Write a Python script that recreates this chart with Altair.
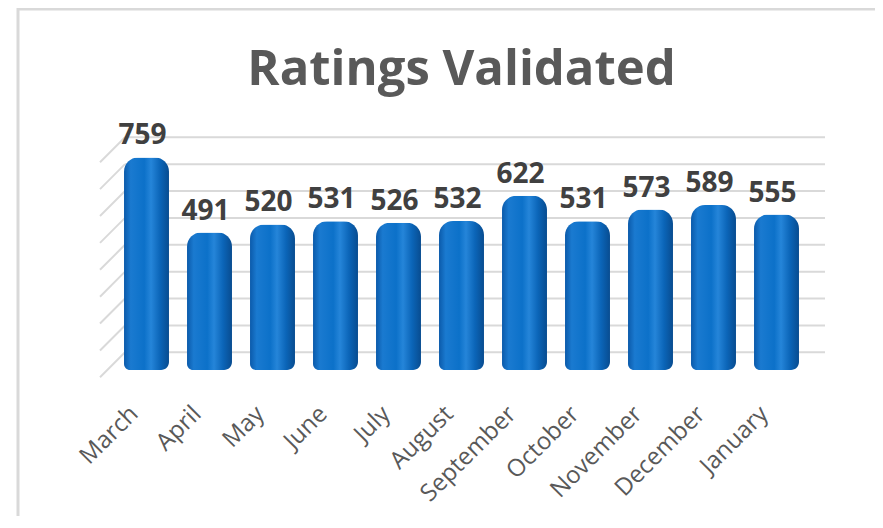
import altair as alt
import pandas as pd

months = ["March", "April", "May", "June", "July", "August", "September",
          "October", "November", "December", "January"]
ratings = [759, 491, 520, 531, 526, 532, 622, 531, 573, 589, 555]
grid_ticks = [0, 100, 200, 300, 400, 500, 600, 700, 800]

bars_df = pd.DataFrame({"month": months, "value": ratings})
grid_df = pd.DataFrame({"tick": grid_ticks})

W, H = 693, 224
ydom = [0, 800]

xenc = alt.X("month:N", sort=months,
             scale=alt.Scale(paddingInner=0.286, paddingOuter=0.143),
             axis=alt.Axis(title=None, labelAngle=-45, labelAlign="right",
                           labelBaseline="middle", labelPadding=40, labelOffset=-12,
                           labelFont="Open Sans", labelFontSize=24,
                           labelColor="#595959", domain=False, ticks=False,
                           grid=False))
yscale = alt.Scale(domain=ydom)

gradient = alt.Gradient(
    gradient="linear", x1=0, x2=1, y1=0, y2=0,
    stops=[alt.GradientStop(color="#0b5aaa", offset=0),
           alt.GradientStop(color="#1a7ad0", offset=0.15),
           alt.GradientStop(color="#0c71c9", offset=0.45),
           alt.GradientStop(color="#2585d9", offset=0.6),
           alt.GradientStop(color="#0b65b8", offset=0.8),
           alt.GradientStop(color="#084c90", offset=1)])

# back-wall gridlines (3D look: wall scale shifted behind the bars)
grid = alt.Chart(grid_df).transform_calculate(
    back="63.2 + 0.96 * datum.tick",
    front="-26.1 + 0.96 * datum.tick",
).mark_rule(color="#d9d9d9", strokeWidth=2).encode(
    y=alt.Y("back:Q", scale=yscale, axis=None),
    x=alt.value(10), x2=alt.value(710),
)
slant = alt.Chart(grid_df).transform_calculate(
    back="63.2 + 0.96 * datum.tick",
    front="-26.1 + 0.96 * datum.tick",
).mark_rule(color="#d9d9d9", strokeWidth=2).encode(
    y=alt.Y("front:Q", scale=yscale, axis=None),
    y2="back:Q",
    x=alt.value(-15), x2=alt.value(10),
)

bars = alt.Chart(bars_df).mark_bar(
    color=gradient, cornerRadiusTopLeft=14, cornerRadiusTopRight=14,
    cornerRadiusBottomLeft=6, cornerRadiusBottomRight=8,
).encode(
    x=xenc,
    y=alt.Y("value:Q", scale=yscale, axis=None),
)

labels = alt.Chart(bars_df).mark_text(
    font="Open Sans", fontSize=28, fontWeight="bold", color="#404040",
    baseline="alphabetic", dy=-13, dx=-4,
).encode(
    x=alt.X("month:N", sort=months),
    y=alt.Y("value:Q", scale=yscale),
    text=alt.Text("value:Q"),
)

frame = alt.Chart(pd.DataFrame({"a": [0]})).mark_rect(
    fill=None, stroke="#d9d9d9", strokeWidth=3
).encode(x=alt.value(-97), x2=alt.value(W + 120), y=alt.value(-137), y2=alt.value(H + 200))

chart = alt.layer(frame, grid, slant, bars, labels).properties(
    width=W, height=H, background="white",
    title=alt.TitleParams("Ratings Validated", font="Open Sans", fontSize=49,
                          fontWeight="bold", color="#595959", anchor="middle",
                          baseline="alphabetic", offset=-126),
    autosize=alt.AutoSizeParams(type="none"),
    padding={"left": 107, "top": 138, "right": 67, "bottom": 146},
).configure_view(strokeWidth=0, stroke=None)

chart.save("out.html", embed_options={"renderer": "svg", "actions": False})
